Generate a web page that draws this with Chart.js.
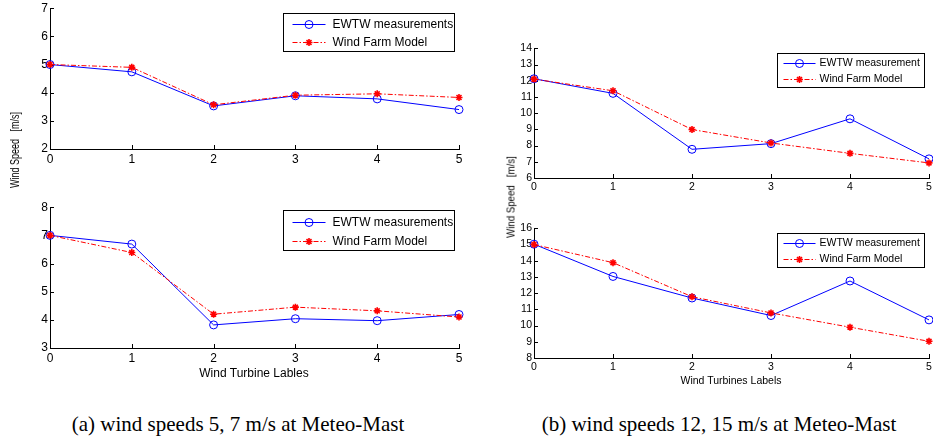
<!DOCTYPE html>
<html>
<head>
<meta charset="utf-8">
<script src="https://cdn.jsdelivr.net/npm/chart.js@4.4.0/dist/chart.umd.min.js"></script>
<style>
html, body { margin: 0; padding: 0; background: #fff; overflow: hidden; }
body { width: 933px; height: 436px; position: relative; font-family: "Liberation Sans", Arial, sans-serif; color: #000; }
canvas { position: absolute; }
.ylab { position: absolute; white-space: nowrap; line-height: 1; }
.xlab { position: absolute; white-space: nowrap; line-height: 1; transform: translateX(-50%); }
.cap { position: absolute; white-space: nowrap; font-family: "Liberation Serif", "Times New Roman", serif; font-size: 21px; line-height: 24px; transform: translateX(-50%); }
</style>
</head>
<body>
<canvas id="c5"></canvas>
<canvas id="c7"></canvas>
<canvas id="c12"></canvas>
<canvas id="c15"></canvas>

<div class="ylab" style="left:15px; top:150px; font-size:12px; transform: translate(-50%,-50%) rotate(-90deg) scaleX(0.75);">Wind Speed &nbsp; [m/s]</div>
<div class="ylab" style="left:511px; top:197px; font-size:11px; transform: translate(-50%,-50%) rotate(-90deg) scaleX(0.88);">Wind Speed &nbsp; [m/s]</div>
<div class="xlab" style="left:254px; top:367px; font-size:12px;">Wind Turbine Lables</div>
<div class="xlab" style="left:731px; top:375px; font-size:10.5px;">Wind Turbines Labels</div>
<div class="cap" style="left:238px; top:412px;">(a) wind speeds 5, 7 m/s at Meteo-Mast</div>
<div class="cap" style="left:719px; top:412px;">(b) wind speeds 12, 15 m/s at Meteo-Mast</div>

<script>
// Données
const turbines = [0, 1, 2, 3, 4, 5];

const ewtw5  = [5.00, 4.74, 3.53, 3.89, 3.78, 3.40];
const model5 = [5.00, 4.90, 3.57, 3.91, 3.96, 3.83];

const ewtw7  = [7.00, 6.69, 3.82, 4.04, 3.97, 4.19];
const model7 = [7.00, 6.39, 4.20, 4.45, 4.32, 4.10];

const ewtw12  = [12.12, 11.22, 7.77, 8.12, 9.65, 7.18];
const model12 = [12.10, 11.38, 8.99, 8.16, 7.52, 6.93];

const ewtw15  = [15.02, 13.03, 11.70, 10.62, 12.75, 10.35];
const model15 = [15.00, 13.88, 11.78, 10.78, 9.90, 9.03];

// limites des axes y (min, max)
const yRange5  = [2, 7];
const yRange7  = [3, 8];
const yRange12 = [6, 14];
const yRange15 = [8, 16];

const labelsLeft  = ['EWTW measurements', 'Wind Farm Model'];
const labelsRight = ['EWTW measurement', 'Wind Farm Model'];

// ticks vers l'intérieur, style matlab
const inwardTicks = {
    id: 'inwardTicks',
    beforeDatasetsDraw(chart) {
        const ctx = chart.ctx;
        const a = chart.chartArea;
        const sx = chart.scales.x, sy = chart.scales.y;
        ctx.save();
        ctx.strokeStyle = '#000';
        ctx.lineWidth = 1;
        ctx.beginPath();
        sx.ticks.forEach(t => {
            const px = Math.round(sx.getPixelForValue(t.value)) + 0.5;
            ctx.moveTo(px, a.bottom);
            ctx.lineTo(px, a.bottom - 4);
        });
        sy.ticks.forEach(t => {
            const py = Math.round(sy.getPixelForValue(t.value)) + 0.5;
            ctx.moveTo(a.left, py);
            ctx.lineTo(a.left + 4, py);
        });
        ctx.stroke();
        ctx.restore();
    }
};

// légende encadrée dans le coin haut droit
const boxLegend = {
    id: 'boxLegend',
    afterDraw(chart, args, opts) {
        const ctx = chart.ctx;
        const a = chart.chartArea;
        const L = Math.round(a.right - opts.right - opts.width) + 0.5;
        const T = Math.round(a.top + opts.top) + 0.5;
        ctx.save();
        ctx.fillStyle = '#fff';
        ctx.fillRect(L, T, opts.width, opts.height);
        ctx.strokeStyle = '#000';
        ctx.lineWidth = 1;
        ctx.strokeRect(L, T, opts.width, opts.height);
        ctx.font = opts.fontSize + 'px "Liberation Sans", Arial, sans-serif';
        ctx.textBaseline = 'middle';
        opts.order.forEach((idx, row) => {
            const ds = chart.data.datasets[idx];
            const yy = T + opts.rows[row];
            ctx.strokeStyle = ds.borderColor;
            ctx.lineWidth = ds.borderWidth;
            ctx.setLineDash(ds.borderDash || []);
            ctx.beginPath();
            ctx.moveTo(L + opts.lineFrom, yy);
            ctx.lineTo(L + opts.lineTo, yy);
            ctx.stroke();
            ctx.setLineDash([]);
            ctx.fillStyle = ds.pointBackgroundColor;
            ctx.strokeStyle = ds.pointBorderColor;
            ctx.lineWidth = ds.pointBorderWidth;
            Chart.helpers.drawPoint(ctx, {
                pointStyle: ds.pointStyle,
                radius: ds.pointRadius,
                borderWidth: ds.pointBorderWidth,
                rotation: 0
            }, L + (opts.lineFrom + opts.lineTo) / 2, yy);
            ctx.fillStyle = '#000';
            ctx.fillText(ds.label, L + opts.textX, yy);
        });
        ctx.restore();
    }
};

function criarGrafico(id, area, yRange, ewtw, model, labels, fontSize, legend) {
    const yW = 40, padT = 8, xH = 22, padR = 8;
    const canvas = document.getElementById(id);
    const w = area.r - area.l + yW + padR;
    const h = area.b - area.t + padT + xH;
    canvas.width = w;
    canvas.height = h;
    canvas.style.left = (area.l - yW) + 'px';
    canvas.style.top = (area.t - padT) + 'px';

    const font = { family: '"Liberation Sans", Arial, sans-serif', size: fontSize };

    new Chart(canvas.getContext('2d'), {
        type: 'line',
        data: {
            labels: turbines,
            datasets: [{
                label: labels[0],
                data: turbines.map((t, i) => ({ x: t, y: ewtw[i] })),
                borderColor: '#0000ff',
                borderWidth: 1,
                pointStyle: 'circle',
                pointRadius: 4,
                pointBorderWidth: 1,
                pointBorderColor: '#0000ff',
                pointBackgroundColor: 'rgba(0,0,0,0)',
                tension: 0,
                clip: false,
                order: 1
            }, {
                label: labels[1],
                data: turbines.map((t, i) => ({ x: t, y: model[i] })),
                borderColor: '#ff0000',
                borderWidth: 1,
                borderDash: [5, 2, 1.5, 2],
                pointStyle: 'star',
                pointRadius: 3.5,
                pointBorderWidth: 1.6,
                pointBorderColor: '#ff0000',
                pointBackgroundColor: '#ff0000',
                tension: 0,
                clip: false,
                order: 0
            }]
        },
        options: {
            responsive: false,
            animation: false,
            devicePixelRatio: 1,
            layout: { padding: { top: padT, right: padR, left: 0, bottom: 0 } },
            plugins: {
                legend: { display: false },
                tooltip: { enabled: false },
                boxLegend: legend
            },
            scales: {
                x: {
                    type: 'linear',
                    min: 0,
                    max: 5,
                    ticks: { stepSize: 1, color: '#000', font: font, padding: 3, maxRotation: 0 },
                    grid: { display: false, drawTicks: false },
                    border: { display: true, color: '#000', width: 1 },
                    afterFit: s => { s.height = xH; }
                },
                y: {
                    min: yRange[0],
                    max: yRange[1],
                    ticks: { stepSize: 1, color: '#000', font: font, padding: 2 },
                    grid: { display: false, drawTicks: false },
                    border: { display: true, color: '#000', width: 1 },
                    afterFit: s => { s.width = yW; }
                }
            }
        },
        plugins: [inwardTicks, boxLegend]
    });
}

const legendLeft = { fontSize: 12, width: 171, height: 38, right: 5, top: 5, rows: [11, 29], lineFrom: 9, lineTo: 42, textX: 49, order: [0, 1] };
const legendRight = { fontSize: 10.5, width: 147, height: 34, right: 5, top: 5, rows: [10, 26], lineFrom: 6, lineTo: 38, textX: 42, order: [0, 1] };

criarGrafico('c5',  { l: 50, t: 7,   r: 459, b: 149 }, yRange5,  ewtw5,  model5,  labelsLeft,  12, legendLeft);
criarGrafico('c7',  { l: 50, t: 206, r: 459, b: 348 }, yRange7,  ewtw7,  model7,  labelsLeft,  12, Object.assign({}, legendLeft, { top: 3, height: 40, rows: [12, 31] }));
criarGrafico('c12', { l: 534, t: 48,  r: 929, b: 178 }, yRange12, ewtw12, model12, labelsRight, 10.5, legendRight);
criarGrafico('c15', { l: 534, t: 228, r: 929, b: 358 }, yRange15, ewtw15, model15, labelsRight, 10.5, legendRight);
</script>
</body>
</html>
